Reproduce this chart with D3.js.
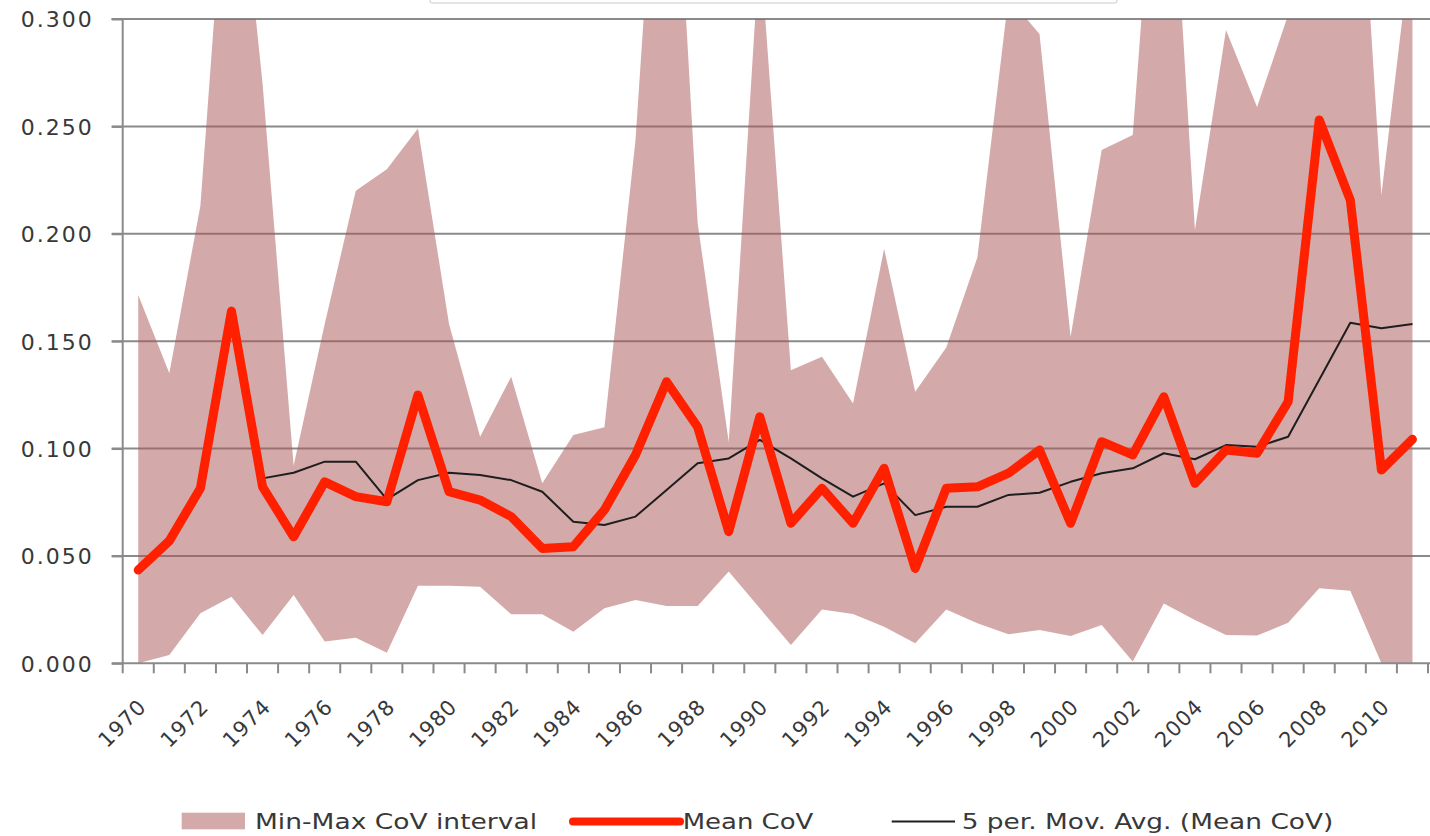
<!DOCTYPE html>
<html><head><meta charset="utf-8">
<script src="https://cdn.jsdelivr.net/npm/d3@7"></script>
<style>
html,body{margin:0;padding:0;background:#fff;}
svg{display:block;}
</style></head>
<body>
<svg id="chart" width="1430" height="836"></svg>
<script>
const years = [1970,1971,1972,1973,1974,1975,1976,1977,1978,1979,1980,1981,1982,1983,1984,1985,1986,1987,1988,1989,1990,1991,1992,1993,1994,1995,1996,1997,1998,1999,2000,2001,2002,2003,2004,2005,2006,2007,2008,2009,2010,2011];
const maxCoV = [0.1715,0.135,0.213,0.41,0.27,0.092,0.158,0.220,0.230,0.249,0.158,0.1055,0.1334,0.0838,0.1063,0.1099,0.2436,0.46,0.205,0.103,0.335,0.1365,0.1427,0.121,0.193,0.1264,0.147,0.189,0.31,0.293,0.152,0.239,0.246,0.44,0.2018,0.2949,0.259,0.302,0.40,0.45,0.218,0.34];
const minCoV = [0.000,0.0039,0.0233,0.031,0.0132,0.0318,0.0101,0.0119,0.0049,0.0361,0.0361,0.0357,0.0228,0.0228,0.0147,0.0256,0.0295,0.0267,0.0267,0.0427,0.0256,0.0085,0.0251,0.023,0.017,0.0093,0.025,0.0186,0.0135,0.0155,0.0127,0.0178,0.0008,0.0279,0.0202,0.0132,0.0129,0.0189,0.0349,0.0338,0.000,0.000];
const meanCoV = [0.0434,0.057,0.0815,0.164,0.0822,0.0589,0.0845,0.0776,0.0752,0.1249,0.0799,0.076,0.0683,0.0535,0.0543,0.0714,0.097,0.1311,0.110,0.0613,0.1148,0.0652,0.0815,0.0652,0.0908,0.0442,0.0815,0.0822,0.0885,0.0993,0.0652,0.1032,0.097,0.1241,0.0838,0.0993,0.0978,0.1218,0.253,0.2157,0.090,0.1043];
const movAvg = [null,null,null,null,0.0861,0.0887,0.0939,0.0939,0.0763,0.0853,0.0887,0.0877,0.0853,0.0799,0.0659,0.0644,0.0683,0.0807,0.0931,0.0954,0.104,0.0954,0.0861,0.0776,0.0838,0.069,0.0729,0.0729,0.0784,0.0794,0.0845,0.0885,0.0908,0.0978,0.095,0.1016,0.1008,0.1055,0.132,0.1586,0.156,0.158];
const yTicks = [0,0.05,0.1,0.15,0.2,0.25,0.3];
const xLabels = [1970,1972,1974,1976,1978,1980,1982,1984,1986,1988,1990,1992,1994,1996,1998,2000,2002,2004,2006,2008,2010];
const legendNames = ["Min-Max CoV interval","Mean CoV","5 per. Mov. Avg. (Mean CoV)"];

const data = years.map((yr,i)=>({yr, mn:minCoV[i], mx:maxCoV[i], mean:meanCoV[i], ma:movAvg[i]}));

const svg = d3.select("#chart");
const pLeft = 122.7, pRight = 1428, pTop = 19, pBottom = 663.3;
const x = d3.scaleBand().domain(years).range([pLeft, pRight]).padding(0);
const bw = x.bandwidth();
const cx = d => x(d) + bw/2;
const y = d3.scaleLinear().domain([0,0.3]).range([pBottom, pTop]);

// faint box edge at top (cut-off element)
svg.append("path").attr("d","M430,-5 L430,1 Q430,3 433,3 L1114,3 Q1117,3 1117,1 L1117,-5")
  .attr("fill","none").attr("stroke","#dcdcdc").attr("stroke-width",1.5);

// gridlines
svg.append("g").selectAll("line").data(yTicks.filter(v=>v>0)).join("line")
  .attr("x1", 111.7).attr("x2", 1430)
  .attr("y1", d=>y(d)).attr("y2", d=>y(d))
  .attr("stroke","#8a8a8a").attr("stroke-width",2);

// clip
svg.append("clipPath").attr("id","plotclip").append("rect")
  .attr("x", pLeft).attr("y", pTop).attr("width", 1430-pLeft).attr("height", pBottom-pTop);

// area
const area = d3.area().x(d=>cx(d.yr)).y0(d=>y(d.mn)).y1(d=>y(d.mx));
svg.append("path").datum(data).attr("clip-path","url(#plotclip)")
  .attr("d", area).attr("fill","rgb(170,84,84)").attr("fill-opacity",0.5);

// y axis
const yAxis = d3.axisLeft(y).tickValues(yTicks).tickFormat(d3.format(".3f")).tickSize(11).tickPadding(18);
const gy = svg.append("g").attr("transform",`translate(${pLeft},0)`).call(yAxis);
gy.select(".domain").attr("stroke","#8a8a8a").attr("stroke-width",2).attr("d",`M-11,${pTop}H0V${pBottom}H-11`);
gy.selectAll(".tick line").attr("stroke","#8a8a8a").attr("stroke-width",2);
gy.selectAll(".tick text").attr("fill","#383838").style("font-family","DejaVu Sans").style("font-size","22px")
  .style("letter-spacing","2px").attr("dy","0.36em");

// x axis line and ticks at band boundaries
const gx = svg.append("g");
gx.append("line").attr("x1",pLeft).attr("x2",1430).attr("y1",pBottom).attr("y2",pBottom)
  .attr("stroke","#8a8a8a").attr("stroke-width",2);
gx.selectAll("line.tk").data(years.concat([null])).join("line").attr("class","tk")
  .attr("x1", d=> d===null ? pRight : x(d)).attr("x2", d=> d===null ? pRight : x(d))
  .attr("y1", pBottom).attr("y2", pBottom+10).attr("stroke","#8a8a8a").attr("stroke-width",2);
gx.selectAll("text").data(xLabels).join("text")
  .attr("transform", d=>`translate(${cx(d)+9.5},708) rotate(-45)`)
  .attr("text-anchor","end")
  .attr("fill","#383838").style("font-family","DejaVu Sans").style("font-size","21px")
  .style("letter-spacing","1px")
  .text(d=>d);

// moving average line
const lineMA = d3.line().defined(d=>d.ma!=null).x(d=>cx(d.yr)).y(d=>y(d.ma));
svg.append("path").datum(data).attr("d",lineMA).attr("fill","none")
  .attr("stroke","#1e1e1e").attr("stroke-width",2).attr("stroke-linejoin","round");

// mean line
const lineMean = d3.line().x(d=>cx(d.yr)).y(d=>y(d.mean));
svg.append("path").datum(data).attr("d",lineMean).attr("fill","none")
  .attr("stroke","#ff2000").attr("stroke-width",9).attr("stroke-linejoin","round").attr("stroke-linecap","round");

// legend
const lg = svg.append("g").style("font-family","DejaVu Sans").style("font-size","22px").attr("fill","#383838");
lg.append("rect").attr("x",181.7).attr("y",812.7).attr("width",63.3).attr("height",16.6)
  .attr("fill","rgb(170,84,84)").attr("fill-opacity",0.5);
lg.append("text").attr("x",255).attr("y",829.3).attr("textLength",282).attr("lengthAdjust","spacingAndGlyphs").text(legendNames[0]);
lg.append("line").attr("x1",573).attr("x2",680).attr("y1",821.5).attr("y2",821.5)
  .attr("stroke","#ff2000").attr("stroke-width",8).attr("stroke-linecap","round");
lg.append("text").attr("x",682.7).attr("y",829.3).attr("textLength",130.6).attr("lengthAdjust","spacingAndGlyphs").text(legendNames[1]);
lg.append("line").attr("x1",891.7).attr("x2",955).attr("y1",821.5).attr("y2",821.5)
  .attr("stroke","#1e1e1e").attr("stroke-width",2);
lg.append("text").attr("x",961.7).attr("y",829.3).attr("textLength",371.6).attr("lengthAdjust","spacingAndGlyphs").text(legendNames[2]);
</script>
</body></html>
